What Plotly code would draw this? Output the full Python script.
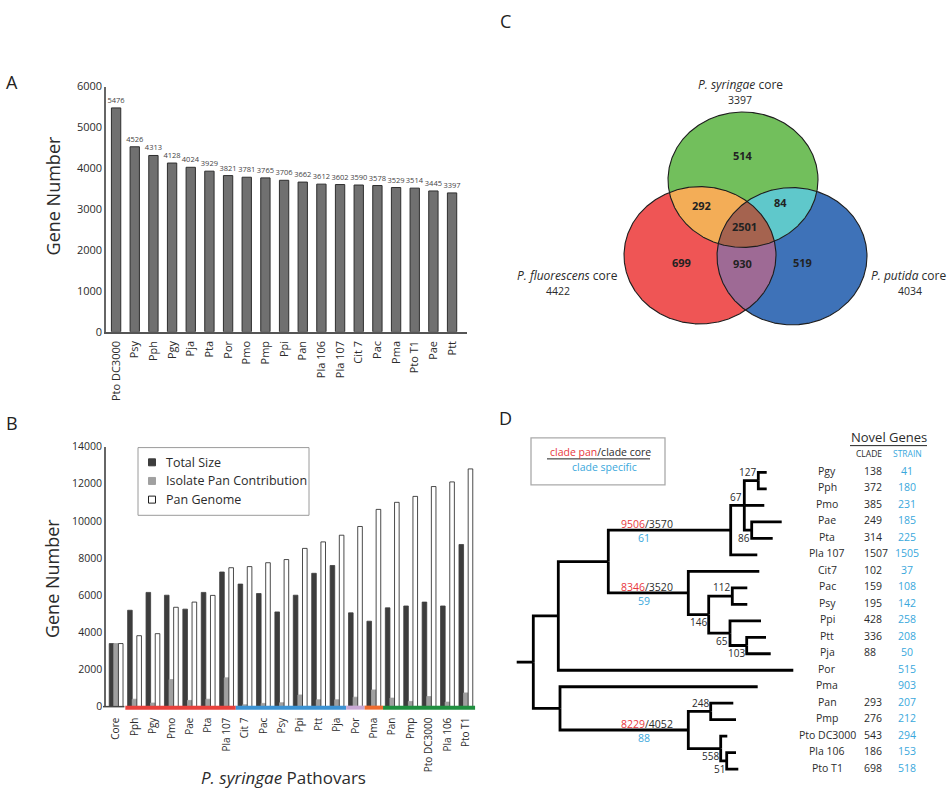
import numpy as np
import plotly.graph_objects as go

W, H = 952, 800
FONT = "Open Sans"
TXT = "#2b2b2b"

# ---------------- data ----------------
# Panel A: core genome size per strain
a_strains = ["Pto DC3000", "Psy", "Pph", "Pgy", "Pja", "Pta", "Por", "Pmo", "Pmp", "Ppi",
             "Pan", "Pla 106", "Pla 107", "Cit 7", "Pac", "Pma", "Pto T1", "Pae", "Ptt"]
a_genes = [5476, 4526, 4313, 4128, 4024, 3929, 3821, 3781, 3765, 3706,
           3662, 3612, 3602, 3590, 3578, 3529, 3514, 3445, 3397]
a_ticks = [0, 1000, 2000, 3000, 4000, 5000, 6000]

# Panel B: pan genome accumulation
b_strains = ["Core", "Pph", "Pgy", "Pmo", "Pae", "Pta", "Pla 107", "Cit 7", "Pac", "Psy",
             "Ppi", "Ptt", "Pja", "Por", "Pma", "Pan", "Pmp", "Pto DC3000", "Pla 106", "Pto T1"]
b_total = [3397, 5190, 6150, 6000, 5250, 6150, 7250, 6600, 6090, 5100,
           6000, 7180, 7600, 5050, 4600, 5320, 5420, 5630, 5420, 8730]
b_contrib = [3397, 400, 195, 1460, 335, 400, 1550, 100, 175, 210,
             630, 370, 370, 510, 900, 460, 280, 545, 245, 740]
b_pan = [3397, 3820, 3930, 5350, 5630, 5990, 7480, 7540, 7750, 7920,
         8520, 8870, 9230, 9700, 10620, 11000, 11320, 11850, 12100, 12800]
b_series = ["Total Size", "Isolate Pan Contribution", "Pan Genome"]
b_ticks = [0, 2000, 4000, 6000, 8000, 10000, 12000, 14000]
# clade colour bands under the x axis: (colour, first index, last index)
b_groups = [("#e8413c", 1, 6), ("#3d93d3", 7, 12), ("#c9a8d4", 13, 13),
            ("#ef6b2d", 14, 14), ("#1f8f3f", 15, 19)]

# Panel C: Venn of core genomes
venn_names = ["P. syringae", "P. fluorescens", "P. putida"]
venn_totals = [3397, 4422, 4034]
venn_regions = {"S": 514, "F": 699, "P": 519, "SF": 292, "SP": 84, "FP": 930, "SFP": 2501}

# Panel D: tree (name, branch length, children) and novel genes table
tree = ("root", 16.6, [
    ("U", 25.0, [
        ("S", 50.0, [
            ("C1", 122.4, [
                ("N67", 13.6, [
                    ("N127", 14.0, [("Pgy", 8.4, []), ("Pph", 8.4, [])]),
                    ("Pmo", 20.0, []),
                    ("N86", 7.4, [("Pae", 30.0, []), ("Pta", 21.0, [])]),
                ]),
                ("Pla 107", 26.6, []),
            ]),
            ("C2", 80.0, [
                ("Cit7", 71.0, []),
                ("N146", 20.4, [
                    ("N112", 23.6, [("Pac", 15.0, []), ("Psy", 15.0, [])]),
                    ("N65", 21.3, [
                        ("Ppi", 31.0, []),
                        ("N103", 16.7, [("Ptt", 19.3, []), ("Pja", 24.0, [])]),
                    ]),
                ]),
            ]),
        ]),
        ("Por", 235.0, []),
    ]),
    ("L", 26.7, [
        ("Pma", 197.7, []),
        ("C3", 128.3, [
            ("N248", 22.4, [("Pan", 22.6, []), ("Pmp", 25.3, [])]),
            ("N558", 32.4, [
                ("Pto DC3000", 6.6, []),
                ("N51", 6.0, [("Pla 106", 9.3, []), ("Pto T1", 11.6, [])]),
            ]),
        ]),
    ]),
])
node_labels = {"N127": ("127", "above"), "N67": ("67", "above"), "N86": ("86", "below"),
               "N112": ("112", "above"), "N146": ("146", "below"), "N65": ("65", "below"),
               "N103": ("103", "below"), "N248": ("248", "above"), "N558": ("558", "below"),
               "N51": ("51", "below")}
clade_labels = {"C1": ("9506", "3570", "61"), "C2": ("8346", "3520", "59"), "C3": ("8229", "4052", "88")}
novel_names = ["Pgy", "Pph", "Pmo", "Pae", "Pta", "Pla 107", "Cit7", "Pac", "Psy", "Ppi",
               "Ptt", "Pja", "Por", "Pma", "Pan", "Pmp", "Pto DC3000", "Pla 106", "Pto T1"]
novel_clade = [138, 372, 385, 249, 314, 1507, 102, 159, 195, 428,
               336, 88, None, None, 293, 276, 543, 186, 698]
novel_strain = [41, 180, 231, 185, 225, 1505, 37, 108, 142, 258,
                208, 50, 515, 903, 207, 212, 294, 153, 518]

# ---------------- layout constants (pixels) ----------------
RED_T = "#e8373c"
CYAN_T = "#3aa8dc"
A_X = (106, 467); A_Y = (330, 80)
B_X = (106, 476); B_Y = (712, 447)
B_RANGE = (-0.55, 19.55)
ELL = {"S": (743, 175, 75, 69), "F": (700, 252, 76, 70), "P": (792, 253, 75, 70)}
VCOL = {"S": "#72bf5c", "F": "#ef5555", "P": "#3e72b8", "SF": "#f3ad57",
        "SP": "#5fc8cb", "FP": "#9e6a95", "SFP": "#a5634f"}
# small nudges of the region labels away from the geometric centroid
VNUDGE = {"S": (0, -1), "F": (5, -5), "P": (-13, -5), "SF": (-5, -4),
          "SP": (-4, -6), "FP": (-4, -8), "SFP": (-2, -2)}
TREE_X0 = 516.7
TREE_Y0 = 473.3
TREE_DY = 16.8
CLADE_LX = 647

fig = go.Figure()
anns = []
shapes = []


def ann(x, y, text, size, color=TXT, xanchor="center", yanchor="middle", **kw):
    anns.append(dict(x=x, y=y, xref="x3", yref="y3", text=text, showarrow=False,
                     font=dict(family=FONT, size=size, color=color),
                     xanchor=xanchor, yanchor=yanchor, borderpad=0, **kw))


def bx(v):
    """map panel-B x data value to figure pixels"""
    return B_X[0] + (v - B_RANGE[0]) / (B_RANGE[1] - B_RANGE[0]) * (B_X[1] - B_X[0])


# ---------------- Panel A ----------------
fig.add_trace(go.Bar(
    x=list(range(len(a_strains))), y=a_genes, width=0.5,
    marker=dict(color="#707070", line=dict(color="#2e2e2e", width=1)),
    text=[str(v) for v in a_genes], textposition="outside", textangle=0,
    constraintext="none", textfont=dict(family=FONT, size=7.5, color="#444"),
    cliponaxis=False, xaxis="x", yaxis="y", showlegend=False, hoverinfo="skip"))

# ---------------- Panel B ----------------
b_idx = list(range(len(b_strains)))
b_styles = [("#3d3d3d", "#3d3d3d", -0.375), ("#a0a0a0", "#a0a0a0", -0.125), ("white", "#1e1e1e", 0.125)]
for vals, name, (fc, lc, off) in zip([b_total, b_contrib, b_pan], b_series, b_styles):
    fig.add_trace(go.Bar(x=b_idx, y=vals, width=0.25, offset=off, name=name,
                         marker=dict(color=fc, line=dict(color=lc, width=0.8)),
                         xaxis="x2", yaxis="y2", showlegend=False, hoverinfo="skip"))

shapes.append(dict(type="line", xref="x3", yref="y3", x0=B_X[0] - 3, x1=bx(0.45),
                   y0=B_Y[0], y1=B_Y[0], line=dict(color="#444", width=1.5)))
for col, i0, i1 in b_groups:
    shapes.append(dict(type="line", xref="x3", yref="y3", x0=bx(i0 - 0.5),
                       x1=bx(min(i1 + 0.5, B_RANGE[1])), y0=B_Y[0] + 1, y1=B_Y[0] + 1,
                       line=dict(color=col, width=4)))

# legend box
shapes.append(dict(type="rect", xref="x3", yref="y3", x0=138, x1=309, y0=448, y1=517,
                   line=dict(color="#9a9a9a", width=1), layer="above"))
leg_y = [463, 482, 501]
for (fc, lc, _), name, ly in zip(b_styles, b_series, leg_y):
    fig.add_trace(go.Scatter(x=[152], y=[ly], mode="markers", xaxis="x3", yaxis="y3",
                             marker=dict(symbol="square", size=7, color=fc,
                                         line=dict(color=lc, width=1)),
                             showlegend=False, hoverinfo="skip"))
    ann(165, ly, name, 12.5, xanchor="left")

# ---------------- Panel C: Venn ----------------
def ell_pts(e, n=900):
    cx, cy, rx, ry = e
    t = np.linspace(0, 2 * np.pi, n, endpoint=False)
    return np.c_[cx + rx * np.cos(t), cy + ry * np.sin(t)]


def inside(p, e):
    cx, cy, rx, ry = e
    return ((p[:, 0] - cx) / rx) ** 2 + ((p[:, 1] - cy) / ry) ** 2 <= 1.0 + 1e-9


def intersect(keys):
    pts = []
    for k in keys:
        p = ell_pts(ELL[k])
        m = np.ones(len(p), bool)
        for j in keys:
            if j != k:
                m &= inside(p, ELL[j])
        pts.append(p[m])
    P = np.vstack(pts)
    c = P.mean(axis=0)
    P = P[np.argsort(np.arctan2(P[:, 1] - c[1], P[:, 0] - c[0]))]
    return np.vstack([P, P[:1]])


def add_poly(P, color):
    fig.add_trace(go.Scatter(x=P[:, 0], y=P[:, 1], mode="lines", fill="toself",
                             fillcolor=color, line=dict(width=0, color=color),
                             xaxis="x3", yaxis="y3", showlegend=False, hoverinfo="skip"))


for k in ["F", "P", "S"]:
    P = ell_pts(ELL[k]); add_poly(np.vstack([P, P[:1]]), VCOL[k])
for ks in ["SF", "SP", "FP", "SFP"]:
    add_poly(intersect(list(ks)), VCOL[ks])
for k in ["S", "F", "P"]:
    P = ell_pts(ELL[k]); P = np.vstack([P, P[:1]])
    fig.add_trace(go.Scatter(x=P[:, 0], y=P[:, 1], mode="lines",
                             line=dict(width=1.1, color="#1e1e1e"),
                             xaxis="x3", yaxis="y3", showlegend=False, hoverinfo="skip"))

# region label positions = centroid of each region (plus a small nudge)
gx, gy = np.meshgrid(np.arange(600, 900, 1.0), np.arange(90, 340, 1.0))
G = np.c_[gx.ravel(), gy.ravel()]
mem = {k: inside(G, ELL[k]) for k in "SFP"}
for key, val in venn_regions.items():
    m = np.ones(len(G), bool)
    for k in "SFP":
        m &= mem[k] if k in key else ~mem[k]
    cx, cy = G[m].mean(axis=0)
    dx, dy = VNUDGE[key]
    ann(cx + dx, cy + dy, "<b>%d</b>" % val, 11, color="#222")

ann(740, 78, "<i>%s</i> core" % venn_names[0], 12)
ann(740, 93.5, str(venn_totals[0]), 10.5)
ann(619, 273, "<i>%s</i> core" % venn_names[1], 12, xanchor="right")
ann(558, 288, str(venn_totals[1]), 10.5)
ann(870, 273, "<i>%s</i> core" % venn_names[2], 12, xanchor="left")
ann(910, 288, str(venn_totals[2]), 10.5)

# ---------------- Panel D: tree ----------------
pos = {}
leaf_i = [0]


def place(node, px):
    name, bl, kids = node
    x = px + bl
    if kids:
        ys = [place(k, x) for k in kids]
        y = sum(ys) / len(ys)
    else:
        y = TREE_Y0 + TREE_DY * leaf_i[0]
        leaf_i[0] += 1
    pos[name] = (x, y, px)
    return y


place(tree, TREE_X0)
tx, ty = [], []


def draw(node, parent):
    name, bl, kids = node
    x, y, px = pos[name]
    if parent is None:
        tx.extend([px, x, None]); ty.extend([y, y, None])
    else:
        _, pyy, _ = pos[parent]
        tx.extend([px, px, x, None]); ty.extend([pyy, y, y, None])
    for k in kids:
        draw(k, name)


draw(tree, None)
fig.add_trace(go.Scatter(x=tx, y=ty, mode="lines", xaxis="x3", yaxis="y3",
                         line=dict(color="black", width=2.8), showlegend=False, hoverinfo="skip"))

for nm, (lab, where) in node_labels.items():
    x, y, _ = pos[nm]
    ann(x - 1, y + (-9 if where == "above" else 8), lab, 10, xanchor="right")
for nm, (pan, core, spec) in clade_labels.items():
    x, y, _ = pos[nm]
    ann(CLADE_LX, y - 6.5, "<span style='color:%s'>%s</span>/%s" % (RED_T, pan, core), 10.5)
    ann(CLADE_LX - 3, y + 8.5, spec, 10.5, color=CYAN_T)

# tree legend
shapes.append(dict(type="rect", xref="x3", yref="y3", x0=531, x1=665, y0=438, y1=486,
                   line=dict(color="#aaaaaa", width=1.3)))
ann(600, 452, "<span style='color:%s'>clade pan</span>/clade core" % RED_T, 10.5)
shapes.append(dict(type="line", xref="x3", yref="y3", x0=547, x1=650, y0=459.5, y1=459.5,
                   line=dict(color="#222", width=1)))
ann(604, 468, "clade specific", 10.5, color=CYAN_T)

# novel genes table
ann(889, 437, "Novel Genes", 13)
shapes.append(dict(type="line", xref="x3", yref="y3", x0=850, x1=927, y0=446, y1=446,
                   line=dict(color="#222", width=1)))
ann(869, 453.5, "CLADE", 8.5)
ann(907, 453.5, "STRAIN", 8.5, color=CYAN_T)
for i, (nm, c, s) in enumerate(zip(novel_names, novel_clade, novel_strain)):
    ry = TREE_Y0 + TREE_DY * i - 1.5
    ann(827, ry, nm, 10.5)
    if c is not None:
        ann(863, ry, str(c), 10.5, xanchor="left")
    ann(907, ry, str(s), 10.5, color=CYAN_T)

# ---------------- titles & panel letters ----------------
ann(53, 192, "Gene Number", 18, textangle=-90)
ann(52, 582, "Gene Number", 18, textangle=-90)
ann(283, 784, "<i>P. syringae</i> Pathovars", 17)
for L, x, y in [("A", 12, 75), ("B", 12, 423), ("C", 505, 13), ("D", 505, 418)]:
    ann(x, y, L, 18, color="#222")

axis_common = dict(showgrid=False, zeroline=False, fixedrange=True)
fig.update_layout(
    width=W, height=H, margin=dict(l=0, r=0, t=0, b=0),
    paper_bgcolor="white", plot_bgcolor="rgba(0,0,0,0)",
    barmode="overlay", showlegend=False,
    font=dict(family=FONT, color=TXT),
    xaxis=dict(domain=[A_X[0] / W, A_X[1] / W], range=[-0.54, 18.8], anchor="y",
               tickmode="array", tickvals=list(range(len(a_strains))), ticktext=a_strains,
               tickangle=-90, showline=True, linecolor="#555", linewidth=1.5,
               ticks="outside", ticklen=3, tickcolor="rgba(0,0,0,0)",
               tickfont=dict(size=11, color=TXT), **axis_common),
    yaxis=dict(domain=[1 - A_Y[0] / H, 1 - A_Y[1] / H], range=[0, 6000], anchor="x",
               tickmode="array", tickvals=a_ticks, ticktext=[str(t) for t in a_ticks],
               showline=True, linecolor="#666", linewidth=1.5, ticks="",
               tickfont=dict(size=11, color=TXT), **axis_common),
    xaxis2=dict(domain=[B_X[0] / W, B_X[1] / W], range=list(B_RANGE), anchor="y2",
                tickmode="array", tickvals=b_idx, ticktext=b_strains, tickangle=-90,
                showline=False, ticks="outside", ticklen=6, tickcolor="rgba(0,0,0,0)",
                tickfont=dict(size=10, color=TXT), **axis_common),
    yaxis2=dict(domain=[1 - B_Y[0] / H, 1 - B_Y[1] / H], range=[0, 14000], anchor="x2",
                tickmode="array", tickvals=b_ticks, ticktext=[str(t) for t in b_ticks],
                showline=True, linecolor="#666", linewidth=1.5, ticks="",
                tickfont=dict(size=10.5, color=TXT), **axis_common),
    xaxis3=dict(domain=[0, 1], range=[0, W], anchor="y3", visible=False, fixedrange=True),
    yaxis3=dict(domain=[0, 1], range=[H, 0], anchor="x3", visible=False, fixedrange=True),
    annotations=anns, shapes=shapes,
)
fig.write_html("out.html", config={"displayModeBar": False},
               post_script="document.body.style.margin='0px';document.body.style.padding='0px';")
